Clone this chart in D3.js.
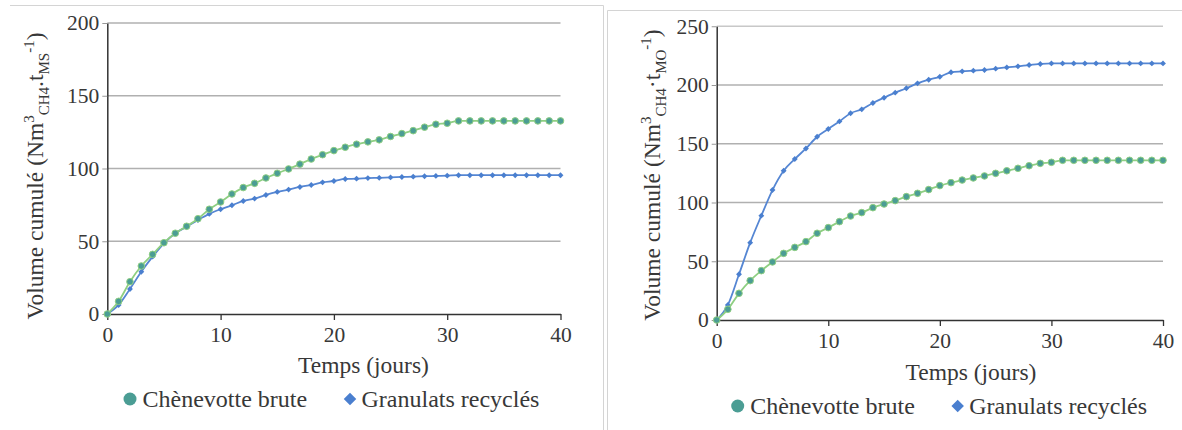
<!DOCTYPE html>
<html>
<head>
<meta charset="utf-8">
<script src="https://cdn.jsdelivr.net/npm/d3@7/dist/d3.min.js"></script>
<style>
    body { margin: 0; background: #fff; }
    svg text { fill: #383838; }
</style>
</head>
<body>
<div id="plot-container"></div>
<script>
const days = [0, 1, 2, 3, 4, 5, 6, 7, 8, 9, 10, 11, 12, 13, 14, 15, 16, 17, 18, 19, 20,
    21, 22, 23, 24, 25, 26, 27, 28, 29, 30, 31, 32, 33, 34, 35, 36, 37, 38, 39, 40];

const xTicks = [0, 10, 20, 30, 40];
const yTicksMS = [0, 50, 100, 150, 200];
const yTicksMO = [0, 50, 100, 150, 200, 250];

const seriesNames = ["Chènevotte brute", "Granulats recyclés"];

// left panel : per tonne of dry matter (MS)
const chenevotteMS = [0, 8.7, 22.2, 33, 41, 49, 55.5, 60.3, 65.5, 72, 77, 82.5, 86.9, 89.8, 93.5, 96.7, 99.7,
    103, 106.5, 109.5, 112.3, 114.6, 116.7, 118.3, 119.7, 122, 124, 126, 128.4, 130.4, 131.1, 132.7,
    132.7, 132.7, 132.7, 132.7, 132.7, 132.7, 132.7, 132.7, 132.7];
const granulatsMS = [0, 6.2, 17.2, 29, 39.4, 48.6, 55.5, 60, 64.6, 68.8, 72, 74.7, 77.7, 79.3, 81.8, 83.9, 85.5,
    87.3, 88.7, 90.5, 91.4, 92.8, 93, 93.4, 93.6, 93.9, 94.2, 94.4, 94.7, 94.9, 95.1, 95.4,
    95.4, 95.4, 95.4, 95.4, 95.4, 95.4, 95.4, 95.4, 95.4];

// right panel : per tonne of organic matter (MO)
const chenevotteMO = [0, 9.1, 22.7, 33.5, 42, 49.4, 56.7, 61.8, 66.7, 73.8, 78.6, 83.7, 88.5, 91.4, 95.6, 98.7, 101.6,
    105, 107.8, 111, 114.4, 116.9, 119.1, 120.9, 122.6, 124.8, 127, 129.1, 131.3, 133.3, 134.2, 135.9,
    135.9, 135.9, 135.9, 135.9, 135.9, 135.9, 135.9, 135.9, 135.9];
const granulatsMO = [0, 12.8, 38.9, 65.8, 88.8, 110.6, 127, 137, 146, 156, 162.6, 169, 176, 179.3, 184.7, 189.2, 193.5,
    197.2, 201.4, 204.5, 207, 210.8, 211.6, 212.2, 212.8, 213.9, 215, 215.9, 217, 217.9, 218.4, 218.4,
    218.4, 218.4, 218.4, 218.4, 218.4, 218.4, 218.4, 218.4, 218.4];

const green = { line: "#8fcf82", fill: "#4b9d94" };
const blue = { line: "#5586d3", fill: "#4a7fcf" };
const FONT = "'Liberation Serif', 'Times New Roman', serif";

const svg = d3.select("#plot-container")
    .append("svg")
    .attr("width", 1182)
    .attr("height", 430)
    .attr("font-family", FONT);

// photo frames
svg.append("path").attr("d", "M10,5.5H603.5V430").attr("fill", "none").attr("stroke", "#d4d4d4");
svg.append("path").attr("d", "M1182,10.5H607.5V430").attr("fill", "none").attr("stroke", "#d4d4d4");

function drawPanel(p) {
    const g = svg.append("g");

    const x = d3.scaleLinear().domain([0, 40]).range([p.left, p.right]);
    const y = d3.scaleLinear().domain([0, p.yMax]).range([p.bottom, p.top]);

    // gridlines
    g.selectAll(".grid")
        .data(p.yTicks.slice(1))
        .enter()
        .append("line")
        .attr("x1", p.left)
        .attr("x2", p.right)
        .attr("y1", d => y(d))
        .attr("y2", d => y(d))
        .attr("stroke", (d, i) => i === p.yTicks.length - 2 && p.lightTop ? "#c8c8c8" : "#b0b0b0")
        .attr("stroke-width", 1.3);

    const yAxis = g.append("g")
        .attr("transform", "translate(" + p.left + ",0)")
        .call(d3.axisLeft(y).tickValues(p.yTicks).tickSize(5).tickPadding(3).tickSizeOuter(0))
        .attr("font-family", FONT);
    yAxis.select(".domain").attr("stroke", "#333").attr("stroke-width", 1.5);
    yAxis.selectAll(".tick line").attr("stroke", "#999");
    yAxis.selectAll("text").style("font-size", "21.5px").style("font-family", FONT).attr("fill", "#383838");

    const xAxis = g.append("g")
        .attr("transform", "translate(0," + p.bottom + ")")
        .call(d3.axisBottom(x).tickValues(xTicks).tickSize(6).tickPadding(7).tickSizeOuter(0))
        .attr("font-family", FONT);
    xAxis.select(".domain").attr("stroke", "#333").attr("stroke-width", 1.5);
    xAxis.selectAll(".tick line").attr("stroke", "#333").attr("stroke-width", 1.3);
    xAxis.selectAll("text").style("font-size", "21.5px").style("font-family", FONT).attr("fill", "#383838");

    g.append("text")
        .attr("text-anchor", "middle")
        .attr("x", p.xTitleX)
        .attr("y", p.xTitleY)
        .style("font-family", FONT)
        .style("font-size", "23.5px")
        .text("Temps (jours)");

    // y title with sub / superscripts
    const yt = g.append("text")
        .attr("text-anchor", "middle")
        .attr("transform", "translate(" + p.yTitleX + "," + p.yTitleY + ") rotate(-90)")
        .style("font-family", FONT)
        .style("font-size", "23.5px");
    yt.append("tspan").text("Volume cumulé (Nm");
    yt.append("tspan").attr("dy", -9).style("font-size", "15px").text("3");
    yt.append("tspan").attr("dy", 15).style("font-size", "15px").text("CH4");
    yt.append("tspan").attr("dy", -6).text(p.sep + "t");
    yt.append("tspan").attr("dy", 6).style("font-size", "15px").text(p.unit);
    yt.append("tspan").attr("dy", -15).style("font-size", "15px").text("-1");
    yt.append("tspan").attr("dy", 9).text(")");

    const line = d3.line()
        .x((d, i) => x(days[i]))
        .y(d => y(d))
        .curve(d3.curveMonotoneX);

    // granulats (blue diamonds)
    g.append("path")
        .datum(p.granulats)
        .attr("d", line)
        .attr("fill", "none")
        .attr("stroke", blue.line)
        .attr("stroke-width", 1.8);
    g.selectAll(".dia")
        .data(p.granulats)
        .enter()
        .append("path")
        .attr("d", d3.symbol().type(d3.symbolDiamond2).size(22))
        .attr("transform", (d, i) => "translate(" + x(days[i]) + "," + y(d) + ")")
        .attr("fill", blue.fill);

    // chenevotte (green circles)
    g.append("path")
        .datum(p.chenevotte)
        .attr("d", line)
        .attr("fill", "none")
        .attr("stroke", green.line)
        .attr("stroke-width", 1.8);
    g.selectAll(".dot")
        .data(p.chenevotte)
        .enter()
        .append("circle")
        .attr("cx", (d, i) => x(days[i]))
        .attr("cy", d => y(d))
        .attr("r", 3.3)
        .attr("fill", green.fill)
        .attr("stroke", green.line)
        .attr("stroke-width", 1);

    // legend
    const lg = g.append("g").attr("transform", "translate(" + p.legendX + "," + p.legendY + ")");
    lg.append("circle").attr("cx", 0).attr("cy", 0).attr("r", 6.5).attr("fill", green.fill);
    lg.append("text").attr("x", 12.5).attr("y", 8)
        .style("font-family", FONT).style("font-size", "24px").text(seriesNames[0]);
    lg.append("path")
        .attr("d", d3.symbol().type(d3.symbolDiamond2).size(100))
        .attr("transform", "translate(220,0)")
        .attr("fill", blue.fill);
    lg.append("text").attr("x", 231.5).attr("y", 8)
        .style("font-family", FONT).style("font-size", "24px").text(seriesNames[1]);
}

drawPanel({
    left: 107.3, right: 560.5, top: 23, bottom: 314, yMax: 200, yTicks: yTicksMS,
    chenevotte: chenevotteMS, granulats: granulatsMS,
    xTitleX: 363.5, xTitleY: 373, yTitleX: 43, yTitleY: 176, sep: ".", unit: "MS",
    legendX: 130, legendY: 399, lightTop: false
});

drawPanel({
    left: 716.7, right: 1163, top: 26.25, bottom: 320, yMax: 250, yTicks: yTicksMO,
    chenevotte: chenevotteMO, granulats: granulatsMO,
    xTitleX: 971, xTitleY: 380, yTitleX: 660, yTitleY: 175, sep: "·", unit: "MO",
    legendX: 737.7, legendY: 406, lightTop: true
});
</script>
</body>
</html>
